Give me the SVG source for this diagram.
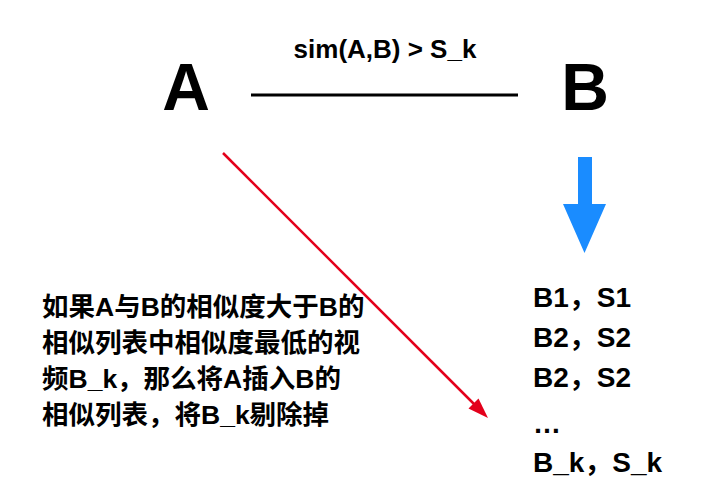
<svg xmlns="http://www.w3.org/2000/svg" width="704" height="502" viewBox="0 0 704 502">
<defs>
<style>
.lat{font-family:"Liberation Sans",Arial,"Noto Sans CJK SC",sans-serif;font-weight:bold;fill:#000}
.cjk{font-family:"Liberation Sans",Arial,"Noto Sans CJK SC",sans-serif;font-weight:bold;fill:#000;font-size:26.5px}
.big{font-size:66px}
.lst{font-size:28px}
</style>
</defs>
<rect width="704" height="502" fill="#fff"/>
<g id="nodeA"><text class="lat big" x="186" y="110" text-anchor="middle">A</text></g>
<g id="nodeB"><text class="lat big" x="585" y="110" text-anchor="middle">B</text></g>
<g id="connectors">
<line x1="251" y1="95" x2="518" y2="95" stroke="#000" stroke-width="3"/>
<text class="lat" x="385" y="58" font-size="26" text-anchor="middle">sim(A,B) &gt; S_k</text>
<line x1="223" y1="153" x2="474" y2="404" stroke="#e3001b" stroke-width="2.5"/>
<path d="M488,418 L468.5,408.5 L478.5,398.5 Z" fill="#e3001b"/>
<path d="M578,157 H592 V204 H606 L584.5,253 L563,204 H578 Z" fill="#1a8cff"/>
</g>
<g id="list">
<text class="lat lst" x="533" y="307">B1，S1</text>
<text class="lat lst" x="533" y="347">B2，S2</text>
<text class="lat lst" x="533" y="387">B2，S2</text>
<text class="lat lst" x="533" y="433">…</text>
<text class="lat lst" x="533" y="472">B_k，S_k</text>
</g>
<g id="note">
<text class="cjk" x="42" y="316">如果A与B的相似度大于B的</text>
<text class="cjk" x="42" y="352">相似列表中相似度最低的视</text>
<text class="cjk" x="42" y="388">频B_k，那么将A插入B的</text>
<text class="cjk" x="42" y="424">相似列表，将B_k剔除掉</text>
</g>
</svg>
